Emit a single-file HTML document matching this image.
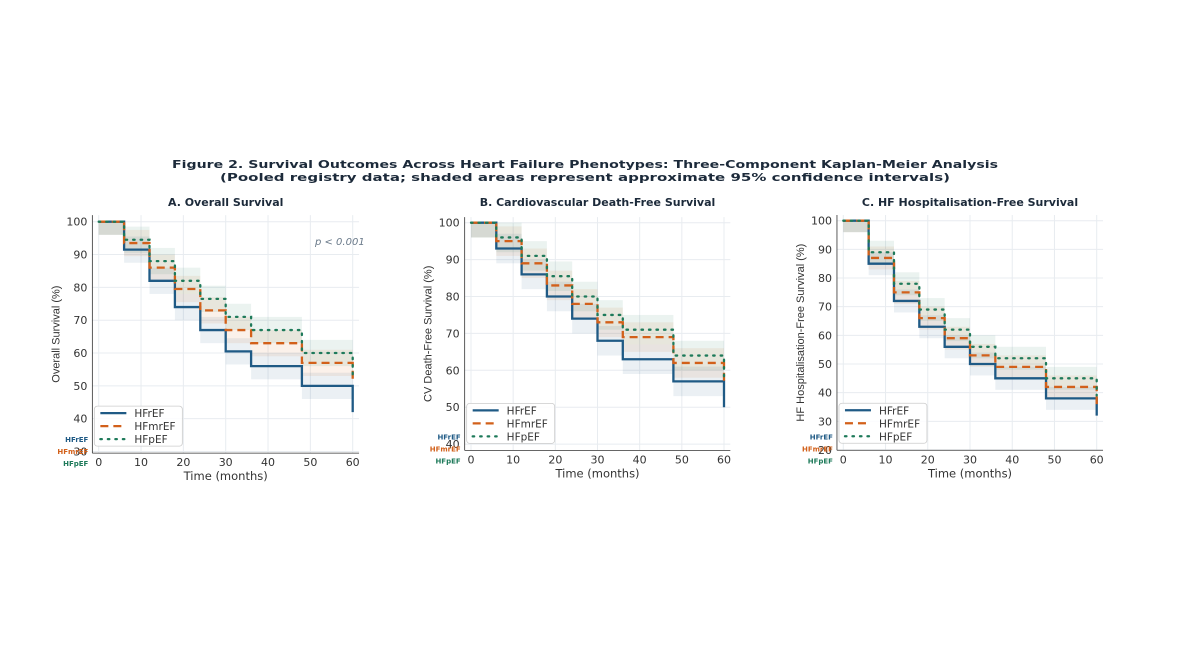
<!DOCTYPE html>
<html><head><meta charset="utf-8"><style>
html,body{margin:0;padding:0;background:#fff;}
svg{display:block;font-family:"DejaVu Sans","Liberation Sans",sans-serif;}
</style></head><body>
<svg id="fig" width="1201" height="651" viewBox="0 0 1201 651">
<text x="585" y="168" text-anchor="middle" font-size="11" font-weight="bold" fill="#1c2a3a" textLength="826" lengthAdjust="spacingAndGlyphs">Figure 2. Survival Outcomes Across Heart Failure Phenotypes: Three-Component Kaplan-Meier Analysis</text>
<text x="585" y="181" text-anchor="middle" font-size="11" font-weight="bold" fill="#1c2a3a" textLength="730" lengthAdjust="spacingAndGlyphs">(Pooled registry data; shaded areas represent approximate 95% confidence intervals)</text>
</svg>
<script>
const times = [0, 6, 12, 18, 24, 30, 36, 48];
const seriesNames = ["HFrEF", "HFmrEF", "HFpEF"];
const panelTitles = ["A. Overall Survival", "B. Cardiovascular Death-Free Survival", "C. HF Hospitalisation-Free Survival"];
const yLabels = ["Overall Survival (%)", "CV Death-Free Survival (%)", "HF Hospitalisation-Free Survival (%)"];
const aHFrEF = [100, 91.5, 82, 74, 67, 60.5, 56, 50];
const aHFmrEF = [100, 93.5, 86, 79.5, 73, 67, 63, 57];
const aHFpEF = [100, 94.5, 88, 82, 76.5, 71, 67, 60];
const aEnd = [42, 51, 53];
const bHFrEF = [100, 93, 86, 80, 74, 68, 63, 57];
const bHFmrEF = [100, 95, 89, 83, 78, 73, 69, 62];
const bHFpEF = [100, 96, 91, 85.5, 80, 75, 71, 64];
const bEnd = [50, 56, 58];
const cHFrEF = [100, 85, 72, 63, 56, 50, 45, 38];
const cHFmrEF = [100, 87, 75, 66, 59, 53, 49, 42];
const cHFpEF = [100, 89, 78, 69, 62, 56, 52, 45];
const cEnd = [32, 36, 39];
const xTicks = [0, 10, 20, 30, 40, 50, 60];
const aYTicks = [30, 40, 50, 60, 70, 80, 90, 100];
const bYTicks = [40, 50, 60, 70, 80, 90, 100];
const cYTicks = [20, 30, 40, 50, 60, 70, 80, 90, 100];
const ciHalf = 4;

const NS = "http://www.w3.org/2000/svg";
const svg = document.getElementById("fig");
const colors = ["#1f5a85", "#d2601a", "#1e7a5a"];
const dashes = ["", "8,5", "1.5,6"];

function mk(tag, attrs, parent) {
  const e = document.createElementNS(NS, tag);
  for (const k in attrs) e.setAttribute(k, attrs[k]);
  (parent || svg).appendChild(e);
  return e;
}

const panels = [
  {x0: 98.7, x1: 352.7, y100: 221.7, perUnit: 3.283, ymin: 29.5, ymax: 102, yt: aYTicks, data: [aHFrEF, aHFmrEF, aHFpEF], end: aEnd, left: 40, p: true},
  {x0: 471, x1: 724, y100: 222.7, perUnit: 3.69, ymin: 38.3, ymax: 101.5, yt: bYTicks, data: [bHFrEF, bHFmrEF, bHFpEF], end: bEnd, left: 410},
  {x0: 843.3, x1: 1096.7, y100: 220.7, perUnit: 2.866, ymin: 19.9, ymax: 102, yt: cYTicks, data: [cHFrEF, cHFmrEF, cHFpEF], end: cEnd, left: 780}
];

panels.forEach((P, pi) => {
  const g = mk("g", {});
  
  
  const xs = t => P.x0 + (P.x1 - P.x0) * t / 60;
  const ys = v => P.y100 + (100 - v) * P.perUnit;
  const L = xs(-1.5), R = xs(61.5), T = ys(P.ymax), B = ys(P.ymin);
  xTicks.forEach(t => {
    const l = mk("line", {x1: xs(t), x2: xs(t), y1: T, y2: B, stroke: "#e8ecf0", "stroke-width": 1}, g);
    
    
  });
  P.yt.forEach(v => {
    const l = mk("line", {x1: L, x2: R, y1: ys(v), y2: ys(v), stroke: "#e8ecf0", "stroke-width": 1}, g);
    
    
  });
  P.data.forEach((arr, si) => {
    const tt = times.concat([60]);
    for (let i = 0; i < arr.length; i++) {
      const hi = Math.min(arr[i] + ciHalf, 100), lo = arr[i] - ciHalf;
      const r = mk("rect", {x: xs(tt[i]), y: ys(hi), width: xs(tt[i + 1]) - xs(tt[i]), height: ys(lo) - ys(hi), fill: colors[si], "fill-opacity": 0.09}, g);
      
      
    }
  });
  P.data.forEach((arr, si) => {
    const tt = times.concat([60]);
    let d = "M" + xs(0) + "," + ys(arr[0]);
    for (let i = 0; i < arr.length; i++) {
      d += " H" + xs(tt[i + 1]);
      d += " V" + ys(i + 1 < arr.length ? arr[i + 1] : P.end[si]);
    }
    const path = mk("path", {d: d, fill: "none", stroke: colors[si], "stroke-width": 2.3, "stroke-dasharray": dashes[si], "stroke-linecap": si == 2 ? "round" : "butt"}, g);
    
    
  });
  const sp1 = mk("line", {x1: L, x2: L, y1: T, y2: B, stroke: "#333", "stroke-width": 0.8}, g);
  
  
  const sp2 = mk("line", {x1: L, x2: R, y1: B, y2: B, stroke: "#333", "stroke-width": 0.8}, g);
  
  
  xTicks.forEach(t => {
    const tx = mk("text", {x: xs(t), y: B + 13, "text-anchor": "middle", "font-size": 11, fill: "#333"}, g);
    tx.textContent = t;
    
    
  });
  P.yt.forEach(v => {
    const tx = mk("text", {x: L - 5, y: ys(v) + 4, "text-anchor": "end", "font-size": 11, fill: "#333"}, g);
    tx.textContent = v;
    
    
  });
  const xl = mk("text", {x: (P.x0 + P.x1) / 2, y: B + 27, "text-anchor": "middle", "font-size": 11.5, fill: "#333"}, g);
  xl.textContent = "Time (months)";
  
  
  const yc = (T + B) / 2, yx = L - 33;
  const yl = mk("text", {x: yx, y: yc, "text-anchor": "middle", "font-size": 11, fill: "#333", transform: "rotate(-90 " + yx + " " + yc + ")", "font-family": "Liberation Sans, sans-serif"}, g);
  yl.textContent = yLabels[pi];
  
  
  const ti = mk("text", {x: (P.x0 + P.x1) / 2, y: 206, "text-anchor": "middle", "font-size": 11, "font-weight": "bold", fill: "#1c2a3a"}, g);
  ti.textContent = panelTitles[pi];
  
  
  const lx = L + 2, ly = B - 47;
  const lg = mk("g", {}, g);
  
  
  mk("rect", {x: lx, y: ly, width: 88, height: 40, rx: 3, fill: "#fff", "fill-opacity": 0.85, stroke: "#ccc", "stroke-width": 0.8}, lg);
  seriesNames.forEach((n, si) => {
    const yy = ly + 7 + si * 13;
    const ln = mk("line", {x1: lx + 6, x2: lx + 32, y1: yy, y2: yy, stroke: colors[si], "stroke-width": 2.3, "stroke-dasharray": dashes[si], "stroke-linecap": si == 2 ? "round" : "butt"}, lg);
    
    
    const tx = mk("text", {x: lx + 40, y: yy + 4, "font-size": 10.5, fill: "#333"}, lg);
    tx.textContent = n;
    
    
  });
  seriesNames.forEach((n, si) => {
    const tx = mk("text", {x: L - 4, y: B - 11 + si * 12, "text-anchor": "end", "font-size": 7, "font-weight": "bold", fill: colors[si]}, g);
    tx.textContent = n;
    
    
  });
  if (P.p) {
    const pt = mk("text", {x: P.x1 + 12, y: 245, "text-anchor": "end", "font-size": 10, "font-style": "italic", fill: "#6a7a8a"}, g);
    pt.textContent = "p < 0.001";
    
    
  }
});
</script>
</body></html>
